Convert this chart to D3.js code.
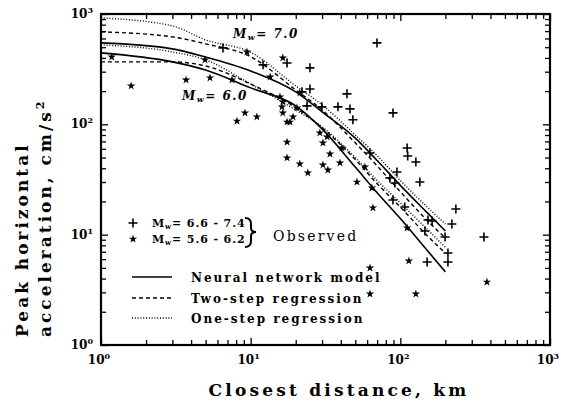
<!DOCTYPE html>
<html>
<head>
<meta charset="utf-8">
<script src="https://d3js.org/d3.v7.min.js"></script>
<style>
body { margin: 0; background: #fff; }
text { font-family: "DejaVu Serif", "Liberation Serif", serif; fill: #000; }
</style>
</head>
<body>
<svg width="561" height="404"></svg>
<script>
// model curves at these distances (km)
var curveDist = [1, 3, 5, 10, 20, 30, 50, 70, 100, 150, 200];
var nnM7  = [547, 483, 408, 305, 197, 130, 75, 47, 28, 16, 10.8];
var nnM6  = [444, 368, 311, 214, 147, 91, 41, 24, 14, 7.3, 4.6];
var twoM7 = [689, 620, 536, 410, 205, 135, 68, 42, 24.5, 13.6, 9.3];
var twoM6 = [368, 368, 338, 232, 141, 93, 48, 29, 17.8, 9.9, 6.8];
var oneM7 = [922, 780, 582, 450, 223, 150, 80, 52, 31, 18, 12.5];
var oneM6 = [524, 453, 384, 232, 135, 95, 50, 31, 19.4, 11.3, 7.7];

// observed records [distance km, PGA cm/s2]
var plusObs = [[6.53,493],[12.1,346],[17.5,360],[24.9,325],[69.8,547],[24.9,209],[44.0,189],
  [38.3,144],[46.1,138],[48.2,110],[89.3,127],[23.8,147],[29.9,144],[22.0,197],[62.7,55.0],
  [111,61.1],[112,51.7],[127,45.6],[85.2,32.7],[94.9,37.0],[92.0,29.4],[135,30.0],[89.3,20.6],
  [107,17.8],[235,17.1],[221,12.5],[153,13.6],[163,13.3],[146,10.8],[199,9.53],[362,9.53],
  [208,6.82],[208,5.65],[151,5.65]];
var starObs = [[1.18,408],[1.59,223],[3.70,253],[4.95,384],[5.35,264],[7.50,253],[9.45,453],
  [13.5,269],[8.10,107],[9.16,127],[11.0,117],[15.7,177],[16.4,160],[16.2,144],[16.4,127],
  [17.5,105],[16.4,400],[17.5,69],[17.5,49.6],[21.3,43.8],[24.1,36.3],[20.4,141],[19.2,117],
  [18.3,105],[21.3,193],[29.0,83.6],[32.4,76.9],[30.4,67.8],[33.9,53.9],[30.4,42.9],[32.8,38.6],
  [39.5,44.7],[40.7,61.1],[58.0,41.1],[51.3,30.0],[64.6,26.5],[65.6,17.5],[111,11.5],[114,5.78],
  [62.7,4.99],[62.7,2.90],[127,2.90],[379,3.72]];

var decades = [0, 1, 2, 3];

var svg = d3.select("svg");
var x = d3.scaleLog().domain([1, 1000]).range([101, 550]);
var y = d3.scaleLog().domain([1, 1000]).range([345, 14]);

var ticks = x.ticks();
function major(d) { return Math.abs(Math.log10(d) % 1) < 1e-9; }

function tickAxis(axis, tr, sign, attr) {
  var g = svg.append("g").attr("transform", tr)
    .call(axis.tickValues(ticks).tickSizeOuter(0).tickFormat(""));
  g.select(".domain").remove();
  g.selectAll(".tick line").attr(attr, d => sign * (major(d) ? 7 : 5)).attr("stroke-width", 1.3);
}
tickAxis(d3.axisBottom(x), "translate(0,345)", -1, "y2");
tickAxis(d3.axisTop(x), "translate(0,14)", 1, "y2");
tickAxis(d3.axisLeft(y), "translate(101,0)", 1, "x2");
tickAxis(d3.axisRight(y), "translate(550,0)", -1, "x2");

svg.append("rect").attr("x", 101).attr("y", 14).attr("width", 449).attr("height", 331)
  .attr("fill", "none").attr("stroke", "#000").attr("stroke-width", 2.2);

// tick labels
decades.forEach(function(e) {
  var t = svg.append("text").attr("x", x(Math.pow(10, e)) - 2).attr("y", 364)
    .attr("text-anchor", "middle").attr("font-size", 12).attr("font-weight", "bold").text("10");
  t.append("tspan").attr("dy", -5).attr("font-size", 8).text(e);
  var u = svg.append("text").attr("x", 93).attr("y", y(Math.pow(10, e)) + 4)
    .attr("text-anchor", "end").attr("font-size", 12).attr("font-weight", "bold").text("10");
  u.append("tspan").attr("dy", -5).attr("font-size", 8).text(e);
});

// curves
var line = d3.line().x(d => x(d[0])).y(d => y(d[1])).curve(d3.curveMonotoneX);
var styles = { solid: null, dashed: "4,3", dotted: "1,1.8" };
[[nnM7, "solid"], [nnM6, "solid"], [twoM7, "dashed"], [twoM6, "dashed"], [oneM7, "dotted"], [oneM6, "dotted"]]
  .forEach(function(c) {
    svg.append("path").datum(curveDist.map((d, i) => [d, c[0][i]]))
      .attr("d", line).attr("fill", "none").attr("stroke", "#000")
      .attr("stroke-width", c[1] == "solid" ? 1.6 : 1.4)
      .attr("stroke-dasharray", styles[c[1]]);
  });

// markers
var star = d3.symbol(d3.symbolStar, 22);
var plus = "M-4.5,0H4.5M0,-4.5V4.5";
svg.append("g").selectAll("path").data(starObs).enter().append("path")
  .attr("transform", d => "translate(" + x(d[0]) + "," + y(d[1]) + ")")
  .attr("d", star).attr("fill", "#000");
svg.append("g").selectAll("path").data(plusObs).enter().append("path")
  .attr("transform", d => "translate(" + x(d[0]) + "," + y(d[1]) + ")")
  .attr("d", plus).attr("stroke", "#000").attr("stroke-width", 1.6);

// curve labels
function mwLabel(px, py, val) {
  var t = svg.append("text").attr("x", px).attr("y", py).attr("font-size", 12)
    .attr("font-weight", "bold").attr("font-style", "italic").attr("letter-spacing", 1.5).text("M");
  t.append("tspan").attr("font-size", 8).attr("dy", 2).text("w");
  t.append("tspan").attr("dy", -2).text("= " + val);
}
mwLabel(233, 38, "7.0");
mwLabel(182, 100, "6.0");

// observed legend
svg.append("path").attr("transform", "translate(133,223)").attr("d", plus)
  .attr("stroke", "#000").attr("stroke-width", 1.6);
svg.append("path").attr("transform", "translate(133,239)").attr("d", star).attr("fill", "#000");
function obsLabel(py, range) {
  var t = svg.append("text").attr("x", 152).attr("y", py).attr("font-size", 11)
    .attr("font-weight", "bold").attr("letter-spacing", 0.9).text("M");
  t.append("tspan").attr("font-size", 7).attr("dy", 2).text("w");
  t.append("tspan").attr("dy", -2).text("= " + range);
}
obsLabel(227, "6.6 - 7.4");
obsLabel(243, "5.6 - 6.2");
svg.append("path")
  .attr("d", "M245,218 Q251,218 251,224 V228 Q251,232 256,232 Q251,232 251,236 V241 Q251,247 245,247")
  .attr("fill", "none").attr("stroke", "#000").attr("stroke-width", 2);
svg.append("text").attr("x", 273).attr("y", 241).attr("font-size", 14)
  .attr("letter-spacing", 2.2).text("Observed");

// line legend
var legendRows = [["Neural network model", "solid", 277], ["Two-step regression", "dashed", 298], ["One-step regression", "dotted", 318]];
legendRows.forEach(function(r) {
  svg.append("line").attr("x1", 132).attr("x2", 172).attr("y1", r[2]).attr("y2", r[2])
    .attr("stroke", "#000").attr("stroke-width", r[1] == "solid" ? 1.6 : 1.4)
    .attr("stroke-dasharray", styles[r[1]]);
  svg.append("text").attr("x", 191).attr("y", r[2] + 5).attr("font-size", 12)
    .attr("font-weight", "bold").attr("letter-spacing", 2).text(r[0]);
});

// axis titles
svg.append("text").attr("x", 339).attr("y", 396).attr("text-anchor", "middle")
  .attr("font-size", 17).attr("font-weight", "bold").attr("letter-spacing", 3.2)
  .text("Closest distance, km");
svg.append("text").attr("transform", "translate(28,337) rotate(-90)")
  .attr("font-size", 17).attr("font-weight", "bold").attr("letter-spacing", 3)
  .text("Peak horizontal");
var yt = svg.append("text").attr("transform", "translate(51,337) rotate(-90)")
  .attr("font-size", 17).attr("font-weight", "bold").attr("letter-spacing", 3)
  .text("acceleration, cm/s");
yt.append("tspan").attr("font-size", 11).attr("dy", -7).text("2");
</script>
</body>
</html>
